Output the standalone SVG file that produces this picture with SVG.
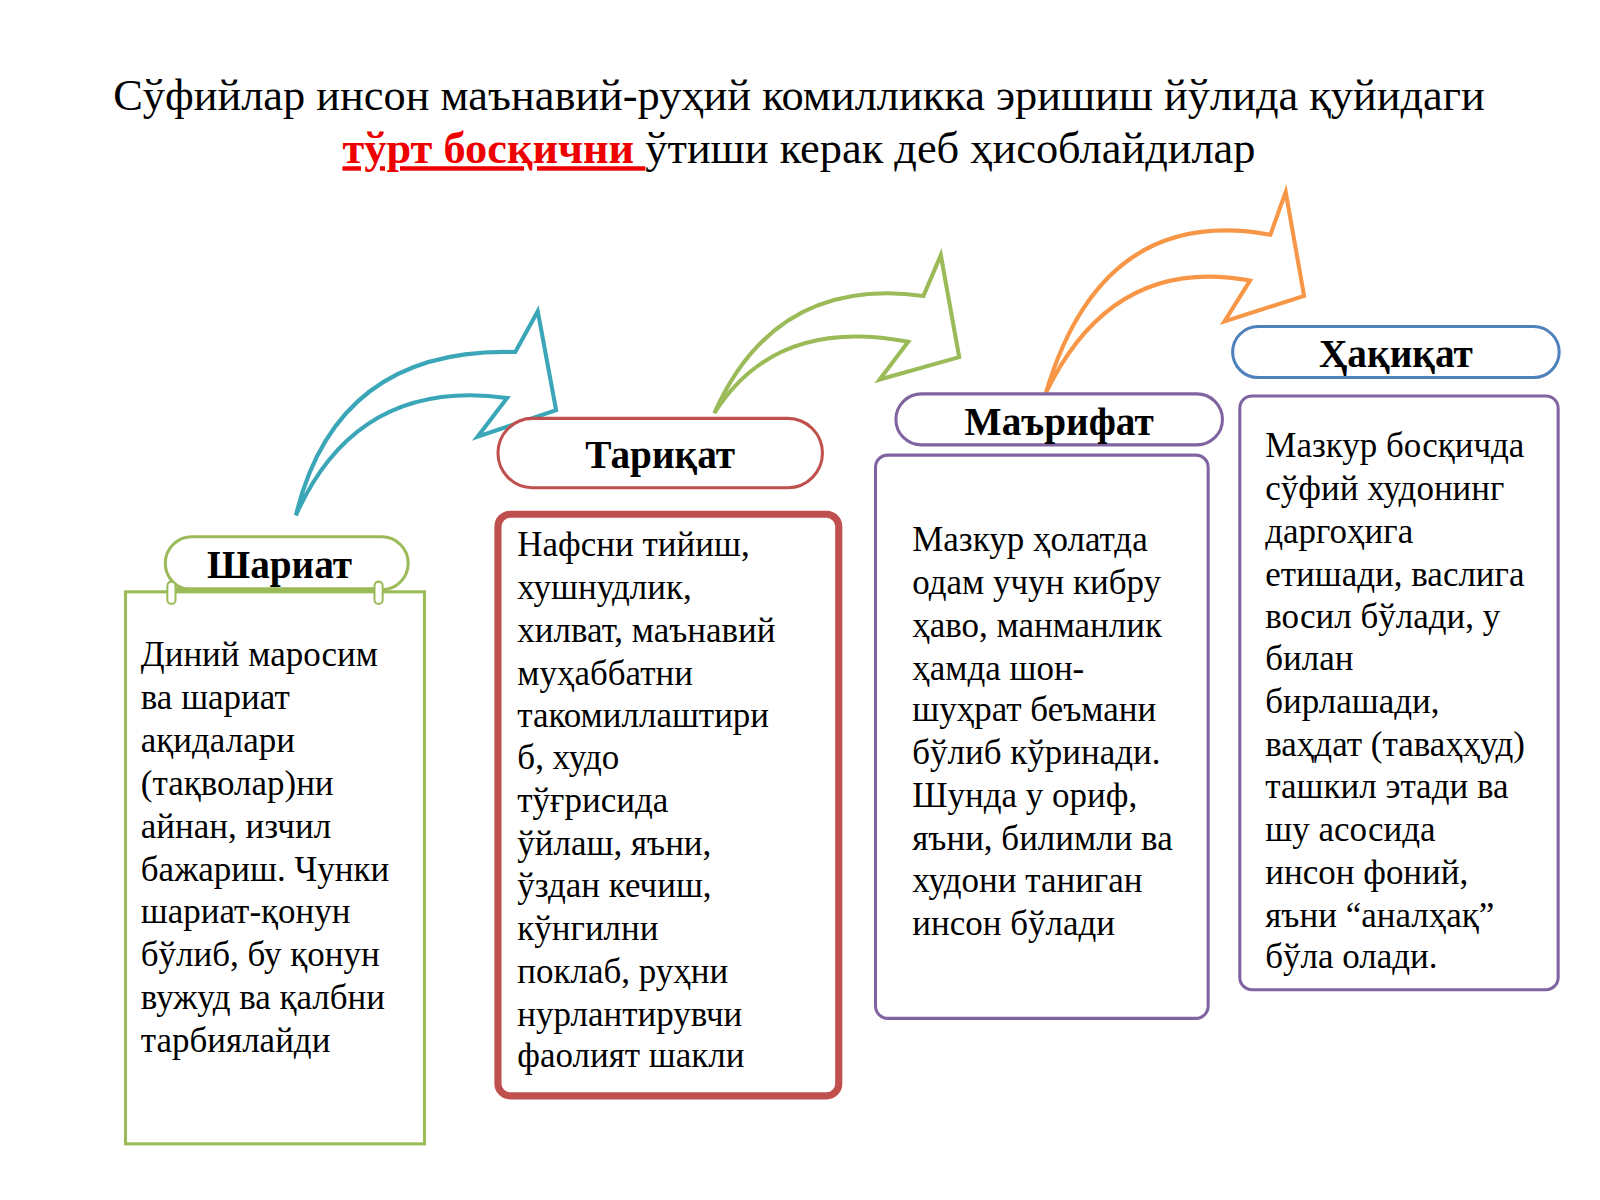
<svg xmlns="http://www.w3.org/2000/svg" width="1600" height="1200" viewBox="0 0 1600 1200">
<style>
text{font-family:"Liberation Serif","Times New Roman",serif;fill:#000}
.t{font-size:43.5px}
.h{font-size:38.5px;font-weight:bold;text-anchor:middle}
.b{font-size:34.3px}
.arr{fill:#fff;stroke-width:4;stroke-linejoin:miter}
</style>
<rect width="1600" height="1200" fill="#fff"/>
<g transform="scale(1.0204)">
<g id="title">
<text class="t" x="783" y="108" text-anchor="middle">Сўфийлар инсон маънавий-руҳий комилликка эришиш йўлида қуйидаги</text>
<text class="t" x="783" y="160" text-anchor="middle"><tspan fill="#e00" font-weight="bold" text-decoration="underline">тўрт босқични </tspan>ўтиши керак деб ҳисоблайдилар</text>
</g>
<g id="connectors">
<path class="arr" stroke="#3aa6b8" d="M290,505 Q330,340 505,345 L527,305 L545,402 L468,428 L497,390 Q350,370 290,505Z"/>
<path class="arr" stroke="#9bbb59" d="M700,405 Q760,270 905,290 L922,250 L940,350 L862,372 L890,335 Q760,310 700,405Z"/>
<path class="arr" stroke="#f79646" d="M1025,385 Q1080,200 1245,230 L1260,188 L1278,290 L1200,315 L1225,275 Q1090,250 1025,385Z"/>
</g>
<g id="shariat">
<rect x="123" y="580" width="293" height="541" fill="#fff" stroke="#9bbb59" stroke-width="3"/>
<rect x="162" y="526" width="238" height="52" rx="26" fill="#fff" stroke="#9bbb59" stroke-width="3"/>
<line x1="168" y1="578" x2="372" y2="578" stroke="#9bbb59" stroke-width="5"/>
<rect x="164" y="570" width="8" height="22" rx="4" fill="#fff" stroke="#9bbb59" stroke-width="2"/>
<rect x="367" y="570" width="8" height="22" rx="4" fill="#fff" stroke="#9bbb59" stroke-width="2"/>
<text class="h" x="274" y="566">Шариат</text>
<text class="b" x="138" y="653">Диний маросим</text>
<text class="b" x="138" y="695">ва шариат</text>
<text class="b" x="138" y="737">ақидалари</text>
<text class="b" x="138" y="779">(тақволар)ни</text>
<text class="b" x="138" y="821">айнан, изчил</text>
<text class="b" x="138" y="863">бажариш. Чунки</text>
<text class="b" x="138" y="905">шариат-қонун</text>
<text class="b" x="138" y="947">бўлиб, бу қонун</text>
<text class="b" x="138" y="989">вужуд ва қалбни</text>
<text class="b" x="138" y="1031">тарбиялайди</text>
</g>
<g id="tariqat">
<rect x="488" y="410" width="318" height="68" rx="34" fill="#fff" stroke="#c0504d" stroke-width="3"/>
<text class="h" x="647" y="459">Тариқат</text>
<rect x="488" y="504" width="334" height="570" rx="12" fill="#fff" stroke="#c0504d" stroke-width="7"/>
<text class="b" x="507" y="545">Нафсни тийиш,</text>
<text class="b" x="507" y="587">хушнудлик,</text>
<text class="b" x="507" y="629">хилват, маънавий</text>
<text class="b" x="507" y="671">муҳаббатни</text>
<text class="b" x="507" y="712">такомиллаштири</text>
<text class="b" x="507" y="754">б, худо</text>
<text class="b" x="507" y="796">тўғрисида</text>
<text class="b" x="507" y="838">ўйлаш, яъни,</text>
<text class="b" x="507" y="879">ўздан кечиш,</text>
<text class="b" x="507" y="921">кўнгилни</text>
<text class="b" x="507" y="963">поклаб, руҳни</text>
<text class="b" x="507" y="1005">нурлантирувчи</text>
<text class="b" x="507" y="1046">фаолият шакли</text>
</g>
<g id="marifat">
<rect x="878" y="386" width="320" height="50" rx="25" fill="#fff" stroke="#8064a2" stroke-width="3"/>
<text class="h" x="1038" y="426">Маърифат</text>
<rect x="858" y="446" width="326" height="552" rx="12" fill="#fff" stroke="#8064a2" stroke-width="3"/>
<text class="b" x="894" y="540">Мазкур ҳолатда</text>
<text class="b" x="894" y="582">одам учун кибру</text>
<text class="b" x="894" y="624">ҳаво, манманлик</text>
<text class="b" x="894" y="666">ҳамда шон-</text>
<text class="b" x="894" y="707">шуҳрат беъмани</text>
<text class="b" x="894" y="749">бўлиб кўринади.</text>
<text class="b" x="894" y="791">Шунда у ориф,</text>
<text class="b" x="894" y="833">яъни, билимли ва</text>
<text class="b" x="894" y="874">худони таниган</text>
<text class="b" x="894" y="916">инсон бўлади</text>
</g>
<g id="haqiqat">
<rect x="1208" y="320" width="320" height="50" rx="25" fill="#fff" stroke="#4f81bd" stroke-width="3"/>
<text class="h" x="1368" y="360">Ҳақиқат</text>
<rect x="1215" y="388" width="312" height="582" rx="12" fill="#fff" stroke="#8064a2" stroke-width="3"/>
<text class="b" x="1240" y="448">Мазкур босқичда</text>
<text class="b" x="1240" y="490">сўфий худонинг</text>
<text class="b" x="1240" y="532">даргоҳига</text>
<text class="b" x="1240" y="574">етишади, васлига</text>
<text class="b" x="1240" y="615">восил бўлади, у</text>
<text class="b" x="1240" y="657">билан</text>
<text class="b" x="1240" y="699">бирлашади,</text>
<text class="b" x="1240" y="741">ваҳдат (таваҳҳуд)</text>
<text class="b" x="1240" y="782">ташкил этади ва</text>
<text class="b" x="1240" y="824">шу асосида</text>
<text class="b" x="1240" y="866">инсон фоний,</text>
<text class="b" x="1240" y="908">яъни “аналҳақ”</text>
<text class="b" x="1240" y="949">бўла олади.</text>
</g>
</g>
</svg>
